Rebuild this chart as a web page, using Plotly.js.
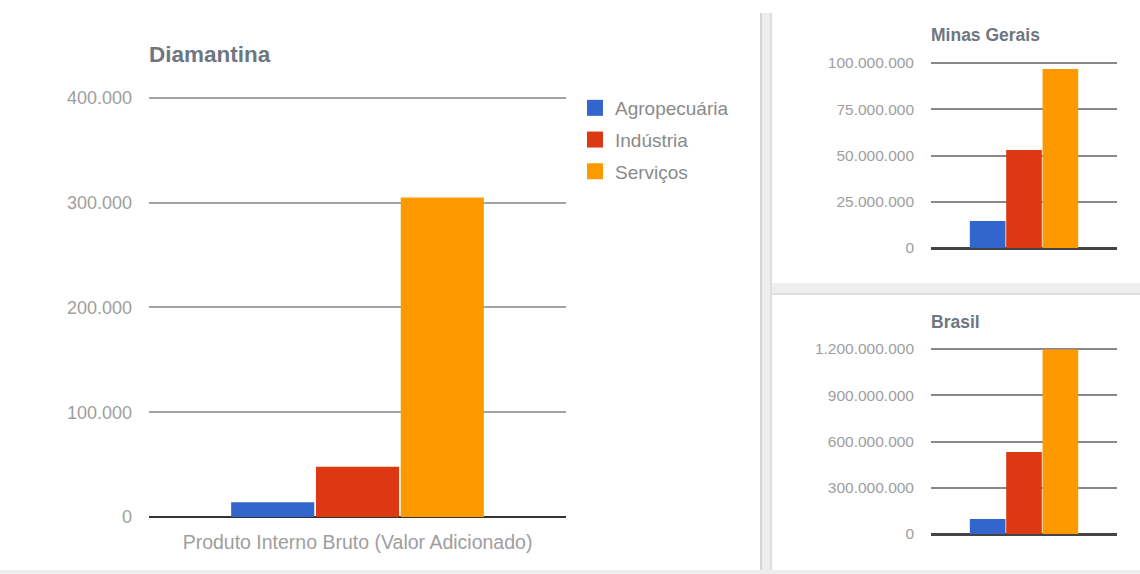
<!DOCTYPE html>
<html>
<head>
<meta charset="utf-8">
<script src="https://cdn.plot.ly/plotly-3.0.1.min.js"></script>
<style>
  html, body { margin: 0; padding: 0; background: #ffffff; }
  #chart { width: 1140px; height: 574px; }
</style>
</head>
<body>
<div id="chart"></div>
<script>
// ---- data ----
const seriesNames = ["Agropecuária", "Indústria", "Serviços"];
const seriesColors = ["#3366cc", "#dc3912", "#ff9900"];
const category = ["Produto Interno Bruto (Valor Adicionado)"];
const diamantinaValues = [14000, 48000, 305000];
const minasGeraisValues = [14600000, 53000000, 96800000];
const brasilValues = [97000000, 532000000, 1197000000];
const panelTitles = ["Diamantina", "Minas Gerais", "Brasil"];
const diamantinaTicks = [0, 100000, 200000, 300000, 400000];
const minasTicks = [0, 25000000, 50000000, 75000000, 100000000];
const brasilTicks = [0, 300000000, 600000000, 900000000, 1200000000];

// ---- helpers ----
const W = 1140, H = 574;
const px = v => v / W;
const py = v => 1 - v / H;
const FONT = "Liberation Sans, Arial, sans-serif";
const EPS = 0.006; // small headroom so the top gridline is drawn

const traces = [];
const panels = [
  {vals: diamantinaValues, xa: "x", ya: "y"},
  {vals: minasGeraisValues, xa: "x2", ya: "y2"},
  {vals: brasilValues, xa: "x3", ya: "y3"}
];
panels.forEach(p => {
  seriesNames.forEach((name, i) => {
    traces.push({
      type: "bar",
      name: name,
      x: category,
      y: [p.vals[i]],
      xaxis: p.xa,
      yaxis: p.ya,
      marker: {color: seriesColors[i], line: {width: 0}},
      showlegend: false,
      hoverinfo: "skip"
    });
  });
});
// legend entries (square swatches)
seriesNames.forEach((name, i) => {
  traces.push({
    type: "scatter", mode: "markers", name: name,
    x: [null], y: [null], xaxis: "x", yaxis: "y",
    marker: {symbol: "square", size: 19, color: seriesColors[i]},
    showlegend: true, legendgroup: name, hoverinfo: "skip"
  });
});

function yAxis(botPx, topPx, ticks, fontSize, gridColor, zeroColor, zeroWidth, standoff) {
  const hpx = botPx - topPx;
  const top = ticks[ticks.length - 1];
  return {
    domain: [py(botPx), py(topPx - hpx * EPS)],
    range: [ticks[0], top * (1 + EPS)],
    tickvals: ticks,
    tickformat: ",.0f",
    showgrid: true,
    gridcolor: gridColor,
    gridwidth: 2,
    zeroline: true,
    zerolinecolor: zeroColor,
    zerolinewidth: zeroWidth,
    showline: false,
    ticks: "",
    ticklabelstandoff: standoff,
    tickfont: {family: FONT, size: fontSize, color: "#9e9e9e"},
    fixedrange: true
  };
}

const layout = {
  width: W,
  height: H,
  margin: {l: 0, r: 0, t: 0, b: 0},
  paper_bgcolor: "#ffffff",
  plot_bgcolor: "rgba(0,0,0,0)",
  separators: ",.",
  barmode: "group",
  bargap: 0.39,
  bargroupgap: 0.02,
  showlegend: true,
  legend: {
    x: px(575), y: py(89), xanchor: "left", yanchor: "top",
    font: {family: FONT, size: 19, color: "#8a8a8a"},
    traceorder: "grouped",
    tracegroupgap: 4,
    itemsizing: "trace",
    bgcolor: "rgba(0,0,0,0)"
  },
  xaxis: {
    domain: [px(149), px(566)],
    anchor: "y",
    type: "category",
    range: [-0.5, 0.5],
    showgrid: false, zeroline: false, showline: false, ticks: "",
    ticklabelstandoff: 11,
    tickfont: {family: FONT, size: 19.5, color: "#9e9e9e"},
    fixedrange: true
  },
  yaxis: Object.assign(yAxis(517, 98, diamantinaTicks, 18, "#a3a3a3", "#333333", 2, 16), {anchor: "x"}),
  xaxis2: {
    domain: [px(931), px(1117)],
    anchor: "y2",
    type: "category",
    range: [-0.52, 0.52],
    showgrid: false, zeroline: false, showline: false, ticks: "",
    showticklabels: false,
    fixedrange: true
  },
  yaxis2: Object.assign(yAxis(248, 63, minasTicks, 15.5, "#888888", "#444444", 3, 16), {anchor: "x2"}),
  xaxis3: {
    domain: [px(931), px(1117)],
    anchor: "y3",
    type: "category",
    range: [-0.52, 0.52],
    showgrid: false, zeroline: false, showline: false, ticks: "",
    showticklabels: false,
    fixedrange: true
  },
  yaxis3: Object.assign(yAxis(534, 349, brasilTicks, 15.5, "#888888", "#444444", 3, 16), {anchor: "x3"}),
  annotations: [
    {text: "<b>" + panelTitles[0] + "</b>", xref: "paper", yref: "paper", x: px(147), y: py(55),
     xanchor: "left", yanchor: "middle", showarrow: false, font: {family: FONT, size: 22.5, color: "#6e7681"}},
    {text: "<b>" + panelTitles[1] + "</b>", xref: "paper", yref: "paper", x: px(929), y: py(35),
     xanchor: "left", yanchor: "middle", showarrow: false, font: {family: FONT, size: 17.5, color: "#6e7681"}},
    {text: "<b>" + panelTitles[2] + "</b>", xref: "paper", yref: "paper", x: px(929), y: py(322),
     xanchor: "left", yanchor: "middle", showarrow: false, font: {family: FONT, size: 17.5, color: "#6e7681"}}
  ],
  shapes: [
    // vertical separator strip
    {type: "rect", xref: "paper", yref: "paper", x0: px(760), x1: px(772), y0: py(570), y1: py(13),
     fillcolor: "#eeeeee", line: {width: 0}, layer: "below"},
    {type: "line", xref: "paper", yref: "paper", x0: px(761), x1: px(761), y0: py(570), y1: py(13),
     line: {color: "#d6d6d6", width: 2}, layer: "below"},
    {type: "line", xref: "paper", yref: "paper", x0: px(771), x1: px(771), y0: py(570), y1: py(13),
     line: {color: "#dedede", width: 2}, layer: "below"},
    // horizontal strip between right panels
    {type: "rect", xref: "paper", yref: "paper", x0: px(772), x1: 1, y0: py(294), y1: py(283),
     fillcolor: "#eeeeee", line: {width: 0}, layer: "below"},
    {type: "line", xref: "paper", yref: "paper", x0: px(772), x1: 1, y0: py(294), y1: py(294),
     line: {color: "#dedede", width: 2}, layer: "below"},
    // bottom strip
    {type: "rect", xref: "paper", yref: "paper", x0: 0, x1: 1, y0: 0, y1: py(570),
     fillcolor: "#eeeeee", line: {width: 0}, layer: "below"}
  ]
};

Plotly.newPlot("chart", traces, layout, {staticPlot: true, displayModeBar: false});
</script>
</body>
</html>
